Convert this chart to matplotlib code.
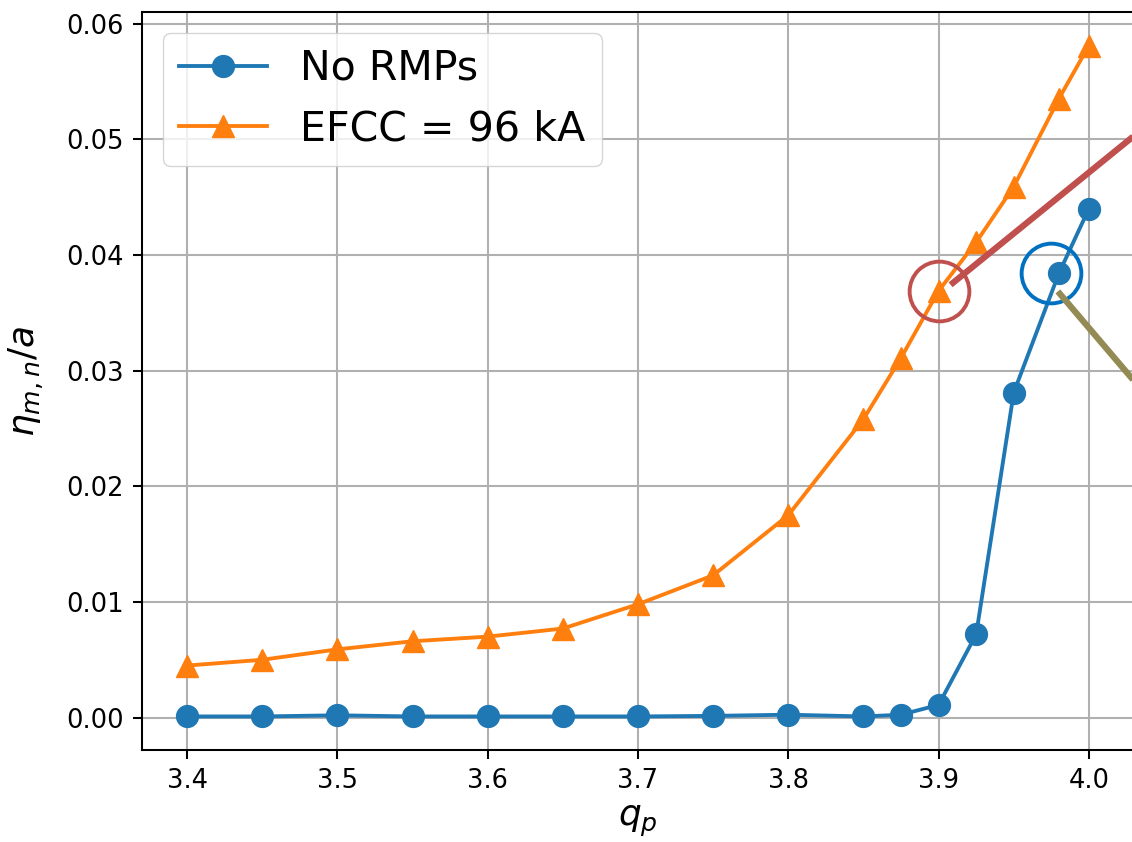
import matplotlib
matplotlib.use("Agg")
import matplotlib.pyplot as plt
from matplotlib.lines import Line2D
from matplotlib.transforms import IdentityTransform

# island width vs edge safety factor
q_p = [3.4, 3.45, 3.5, 3.55, 3.6, 3.65, 3.7, 3.75, 3.8, 3.85, 3.875,
       3.9, 3.925, 3.95, 3.98, 4.0]
eta_no_rmp = [0.0001, 0.0001, 0.0002, 0.0001, 0.0001, 0.0001, 0.0001, 0.00015,
              0.00025, 0.0001, 0.00025, 0.0011, 0.0072, 0.0281, 0.0384, 0.0440]
eta_efcc = [0.0045, 0.0050, 0.0059, 0.0066, 0.0070, 0.0077, 0.0098, 0.0123,
            0.0175, 0.0258, 0.0311, 0.0369, 0.0411, 0.0459, 0.0535, 0.0581]
labels = ["No RMPs", "EFCC = 96 kA"]

W, H, DPI = 1132, 842, 100
s = 1.85  # everything drawn ~1.85x the matplotlib defaults
fig = plt.figure(figsize=(W / DPI, H / DPI), dpi=DPI)
ax = fig.add_axes([142 / W, 1 - 750 / H, (1134 - 142) / W, (750 - 12) / H])

ax.plot(q_p, eta_no_rmp, '-o', color='#1f77b4', lw=1.5 * s, ms=8.5 * s, label=labels[0])
ax.plot(q_p, eta_efcc, '-^', color='#ff7f0e', lw=1.5 * s, ms=8.5 * s, label=labels[1])

ax.grid(True, color='#b0b0b0', lw=0.8 * s)
ax.tick_params(labelsize=10 * s, width=0.8 * s, length=3.5 * s, pad=3.5 * s)
for sp in ax.spines.values():
    sp.set_linewidth(0.8 * s)
ax.set_xlabel(r'$q_p$', fontsize=14 * s, labelpad=4 * s)
ax.set_ylabel(r'$\eta_{m,n}/a$', fontsize=14 * s, labelpad=8 * s)
ax.legend(loc='upper left', fontsize=16 * s, handlelength=2.15)

# highlight two points and draw pointer lines leading off to the right
fig.canvas.draw()
i_red = q_p.index(3.9)
i_blue = q_p.index(3.98)
xr, yr = ax.transData.transform((q_p[i_red], eta_efcc[i_red]))
xb, yb = ax.transData.transform((q_p[i_blue], eta_no_rmp[i_blue]))

ax.plot(q_p[i_red], eta_efcc[i_red], 'o', ms=43, mfc='none', mec='#c0504d',
        mew=2.8, clip_on=False)
ax.plot(q_p[i_blue] - 0.005, eta_no_rmp[i_blue], 'o', ms=43, mfc='none',
        mec='#0070c0', mew=2.8, clip_on=False)

fig.add_artist(Line2D([xr + 12, xr + 262], [yr + 6, yr + 209],
                      transform=IdentityTransform(), color='#c0504d', lw=4.5,
                      solid_capstyle='butt'))
fig.add_artist(Line2D([xb - 1, xb + 142], [yb - 18, yb - 186],
                      transform=IdentityTransform(), color='#948a54', lw=4.5,
                      solid_capstyle='butt'))

fig.savefig('out.png', dpi=DPI)
